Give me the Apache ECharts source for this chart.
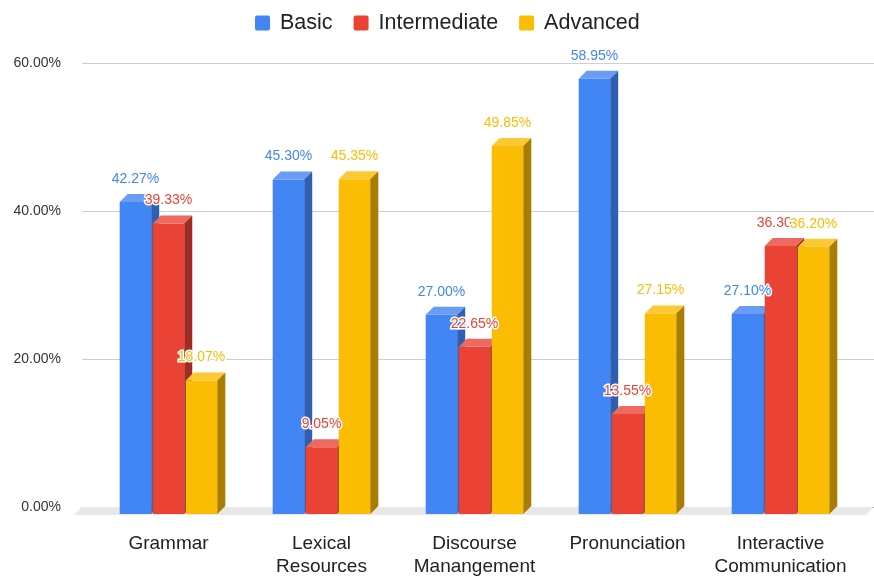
<!DOCTYPE html>
<html>
<head>
<meta charset="utf-8">
<script src="https://cdn.jsdelivr.net/npm/echarts@6/dist/echarts.min.js"></script>
<style>
  html, body { margin: 0; background: #fff; }
  #chart { width: 874px; height: 578px; }
</style>
</head>
<body>
<div id="chart"></div>
<script>
// dados
const categorias = ['Grammar', 'Lexical\nResources', 'Discourse\nManangement', 'Pronunciation', 'Interactive\nCommunication']
const basico = [42.27, 45.30, 27.00, 58.95, 27.10]
const intermediario = [39.33, 9.05, 22.65, 13.55, 36.30]
const avancado = [18.07, 45.35, 49.85, 27.15, 36.20]
const ticksY = [0, 20, 40, 60]

const FONTE = 'Arial, "Liberation Sans", sans-serif'
const PROF = 8 // profundidade do efeito 3d

const cores = [
  { base: '#4285F4', topo: '#6a9cf6', lado: '#2f5fb3' },
  { base: '#EA4335', topo: '#ee6a5e', lado: '#9f2b23' },
  { base: '#FBBC04', topo: '#fcc934', lado: '#a97d00' }
]

function barra3d(idx, cor) {
  return function (params, api) {
    var cat = api.value(0)
    var valor = api.value(1)
    var base = api.coord([cat, 0])
    var alto = api.coord([cat, valor])
    var banda = api.size([1, 0])[0]
    var w = banda * 0.206
    var passo = banda * 0.216
    var x = base[0] - (2 * passo + w) / 2 + idx * passo
    var yt = alto[1]
    var yb = base[1]
    var d = PROF

    return {
      type: 'group',
      children: [
        {
          type: 'rect',
          shape: { x: x, y: yt, width: w, height: yb - yt },
          style: { fill: cor.base }
        },
        {
          type: 'polygon',
          shape: { points: [[x, yt], [x + w, yt], [x + w + d, yt - d], [x + d, yt - d]] },
          style: { fill: cor.topo }
        },
        {
          type: 'polygon',
          shape: { points: [[x + w, yt], [x + w + d, yt - d], [x + w + d, yb - d], [x + w, yb]] },
          style: { fill: cor.lado }
        },
        {
          type: 'text',
          z2: 100,
          x: x + w / 2,
          y: yt - d - 8,
          style: {
            text: valor.toFixed(2) + '%',
            fill: cor.base,
            stroke: '#fff',
            lineWidth: 3,
            fontSize: 14,
            fontFamily: FONTE,
            align: 'center',
            verticalAlign: 'bottom'
          }
        }
      ]
    }
  }
}

function piso(params, api) {
  var c = params.coordSys
  var yb = c.y + c.height
  return {
    type: 'polygon',
    shape: { points: [[c.x, yb], [c.x + c.width, yb], [c.x + c.width - PROF, yb + PROF], [c.x - PROF, yb + PROF]] },
    style: { fill: '#e8e8e8' }
  }
}

function serie(nome, valores, idx) {
  return {
    name: nome,
    type: 'custom',
    xAxisIndex: 0,
    yAxisIndex: 0,
    z: 3,
    itemStyle: { color: cores[idx].base },
    renderItem: barra3d(idx, cores[idx]),
    encode: { x: 0, y: 1 },
    data: valores.map((v, i) => [i, v])
  }
}

var chartDom = document.getElementById('chart')
var myChart = echarts.init(chartDom)

var option = {
  animation: false,
  textStyle: { fontFamily: FONTE },
  legend: {
    top: 12,
    left: 255,
    padding: 0,
    icon: 'path://M2,0 L13,0 Q15,0 15,2 L15,13 Q15,15 13,15 L2,15 Q0,15 0,13 L0,2 Q0,0 2,0 Z',
    itemWidth: 15,
    itemHeight: 15,
    itemGap: 21,
    textStyle: { fontSize: 21.5, color: '#222', fontFamily: FONTE, padding: [0, 0, 0, 5] },
    data: ['Basic', 'Intermediate', 'Advanced']
  },
  grid: [
    // plano da frente, onde ficam as barras
    { left: 92, right: 17, top: 71, bottom: 63 },
    // plano de tras, com as linhas de grade
    { left: 82, right: 0, top: 63, bottom: 71 }
  ],
  xAxis: [
    {
      type: 'category',
      gridIndex: 0,
      data: categorias,
      axisLine: { show: false },
      axisTick: { show: false },
      axisLabel: { fontSize: 19, color: '#222', lineHeight: 23, margin: 18, fontFamily: FONTE, interval: 0 }
    },
    {
      type: 'value',
      gridIndex: 1,
      min: 0,
      max: 1,
      axisLabel: { show: false },
      axisTick: { show: false },
      splitLine: { show: false },
      axisLine: { show: true, lineStyle: { color: '#333', width: 1 } }
    }
  ],
  yAxis: [
    { type: 'value', gridIndex: 0, min: ticksY[0], max: ticksY[ticksY.length - 1], interval: 20, show: false },
    {
      type: 'value',
      gridIndex: 1,
      min: ticksY[0],
      max: ticksY[ticksY.length - 1],
      interval: 20,
      axisLine: { show: false },
      axisTick: { show: false },
      splitLine: { lineStyle: { color: '#cfcfcf' } },
      axisLabel: {
        fontSize: 14,
        color: '#333',
        margin: 21,
        fontFamily: FONTE,
        formatter: (v) => v.toFixed(2) + '%'
      }
    }
  ],
  series: [
    {
      type: 'custom',
      xAxisIndex: 1,
      yAxisIndex: 1,
      z: 1,
      silent: true,
      renderItem: piso,
      data: [[0, 0]]
    },
    serie('Basic', basico, 0),
    serie('Intermediate', intermediario, 1),
    serie('Advanced', avancado, 2)
  ]
}

option && myChart.setOption(option)
</script>
</body>
</html>
